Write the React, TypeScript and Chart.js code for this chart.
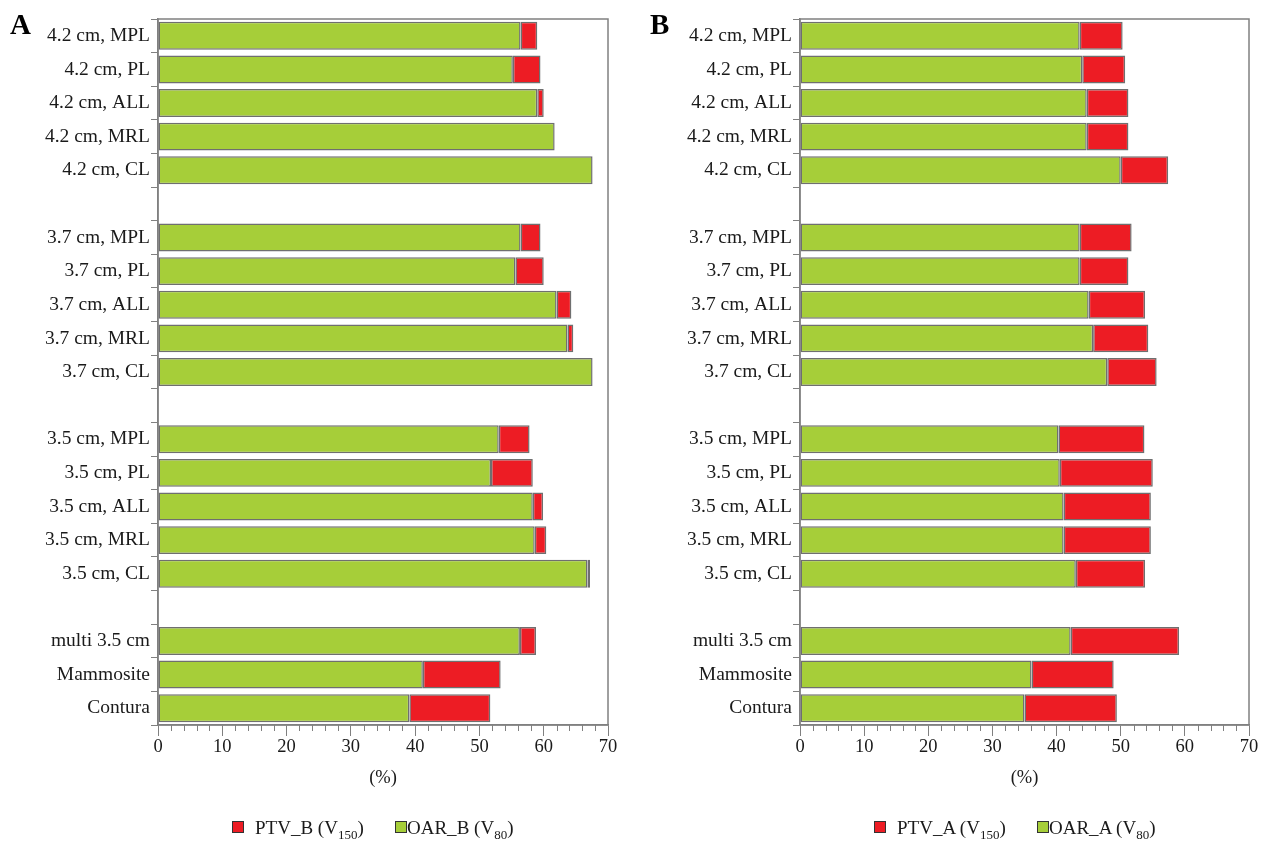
import React, { useEffect, useRef } from "react";
import { Chart, registerables } from "chart.js";

Chart.register(...registerables);

const categories = [
  "4.2 cm, MPL", "4.2 cm, PL", "4.2 cm, ALL", "4.2 cm, MRL", "4.2 cm, CL", "",
  "3.7 cm, MPL", "3.7 cm, PL", "3.7 cm, ALL", "3.7 cm, MRL", "3.7 cm, CL", "",
  "3.5 cm, MPL", "3.5 cm, PL", "3.5 cm, ALL", "3.5 cm, MRL", "3.5 cm, CL", "",
  "multi 3.5 cm", "Mammosite", "Contura",
];

// Panel A (B-index): green OAR_B base and red PTV_B increment
const oarB = [56.4, 55.2, 59.0, 61.7, 67.6, null, 56.4, 55.6, 62.0, 63.7, 67.6, null, 53.0, 51.8, 58.3, 58.6, 66.8, null, 56.3, 41.2, 39.1];
const ptvB = [2.6, 4.3, 1.0, 0, 0, null, 3.1, 4.4, 2.3, 0.9, 0, null, 4.8, 6.5, 1.6, 1.8, 0.4, null, 2.5, 12.1, 12.6];

// Panel B (A-index): green OAR_A base and red PTV_A increment
const oarA = [43.6, 44.0, 44.7, 44.7, 50.0, null, 43.6, 43.6, 45.0, 45.7, 47.9, null, 40.3, 40.5, 41.1, 41.1, 43.0, null, 42.2, 36.1, 35.0];
const ptvA = [6.7, 6.7, 6.5, 6.5, 7.4, null, 8.1, 7.6, 8.8, 8.6, 7.7, null, 13.4, 14.5, 13.6, 13.6, 10.8, null, 16.9, 12.8, 14.4];

const xTicksMajor = [0, 10, 20, 30, 40, 50, 60, 70];

const GREEN = "#a6ce39";
const RED = "#ed1c24";
const EDGE = "#6f6f6f";
const AXIS = "#808080";
const FONT = "'Liberation Serif', 'Times New Roman', serif";

const framePlugin = {
  id: "frame",
  afterDraw(chart: any) {
    const { ctx, chartArea } = chart;
    const xs = chart.scales.x;
    ctx.save();
    ctx.strokeStyle = AXIS;
    ctx.lineWidth = 1.5;
    ctx.strokeRect(chartArea.left, chartArea.top, chartArea.right - chartArea.left, chartArea.bottom - chartArea.top);
    ctx.lineWidth = 1;
    for (let v = 0; v <= 70; v += 2) {
      if (v % 10 === 0) continue;
      const px = Math.round(xs.getPixelForValue(v)) + 0.5;
      ctx.beginPath();
      ctx.moveTo(px, chartArea.bottom);
      ctx.lineTo(px, chartArea.bottom + 6);
      ctx.stroke();
    }
    ctx.restore();
  },
};

type PanelProps = {
  left: number;
  width: number;
  axisWidth: number;
  rightPad: number;
  letter: string;
  green: (number | null)[];
  red: (number | null)[];
  greenName: string;
  redName: string;
  tag: string;
};

function Panel(p: PanelProps) {
  const ref = useRef<HTMLCanvasElement | null>(null);
  useEffect(() => {
    if (!ref.current) return;
    const chart = new Chart(ref.current, {
      type: "bar",
      data: {
        labels: categories,
        datasets: [
          {
            label: p.greenName,
            data: p.green as any,
            backgroundColor: GREEN,
            borderColor: EDGE,
            borderWidth: 1.5,
            borderSkipped: false,
            barPercentage: 0.83,
            categoryPercentage: 1,
          },
          {
            label: p.redName,
            data: p.red as any,
            backgroundColor: RED,
            borderColor: EDGE,
            borderWidth: 1.5,
            borderSkipped: false,
            barPercentage: 0.83,
            categoryPercentage: 1,
          },
        ],
      },
      options: {
        indexAxis: "y",
        animation: false,
        responsive: false,
        maintainAspectRatio: false,
        layout: { padding: { top: 19, right: p.rightPad, bottom: 52, left: 0 } },
        plugins: { legend: { display: false }, tooltip: { enabled: false } },
        scales: {
          x: {
            stacked: true,
            min: 0,
            max: 70,
            afterBuildTicks: (s: any) => {
              s.ticks = xTicksMajor.map((v) => ({ value: v }));
            },
            afterFit: (s: any) => {
              s.height = 64;
            },
            grid: {
              drawOnChartArea: false,
              drawTicks: true,
              tickLength: 11,
              color: AXIS,
              lineWidth: 1,
            },
            border: { display: true, color: AXIS, width: 1.5 },
            ticks: {
              color: "#1a1a1a",
              padding: 0,
              maxRotation: 0,
              font: { family: FONT, size: 18.5 },
            },
            title: {
              display: true,
              text: "(%)",
              color: "#1a1a1a",
              padding: { top: 0, bottom: 0 },
              font: { family: FONT, size: 18.5 },
            },
          },
          y: {
            stacked: true,
            afterFit: (s: any) => {
              s.width = p.axisWidth;
            },
            grid: {
              offset: true,
              drawOnChartArea: false,
              drawTicks: true,
              tickLength: 7,
              color: AXIS,
              lineWidth: 1,
            },
            border: { display: true, color: AXIS, width: 1.5 },
            ticks: {
              color: "#1a1a1a",
              padding: 1,
              autoSkip: false,
              font: { family: FONT, size: 19.5 },
            },
          },
        },
      },
      plugins: [framePlugin],
    });
    return () => chart.destroy();
  }, []);

  const plotLeft = p.left + p.axisWidth;
  const sq = (c: string) => ({
    display: "inline-block",
    width: 10,
    height: 10,
    background: c,
    border: "1px solid #333",
  });
  return (
    <>
      <canvas
        ref={ref}
        width={p.width}
        height={841}
        style={{ position: "absolute", left: p.left, top: 0, width: p.width, height: 841 }}
      />
      <div
        style={{
          position: "absolute",
          left: p.left + 10,
          top: 8,
          fontFamily: FONT,
          fontWeight: "bold",
          fontSize: 29,
          color: "#000",
        }}
      >
        {p.letter}
      </div>
      <div style={{ position: "absolute", left: plotLeft + 74, top: 818, fontFamily: FONT, fontSize: 19, color: "#1a1a1a", whiteSpace: "nowrap", lineHeight: "20px" }}>
        <span style={{ ...sq(RED), position: "absolute", left: 0, top: 3 }} />
        <span style={{ position: "absolute", left: 23, top: 0 }}>
          PTV_{p.tag} (V<sub style={{ fontSize: 13 }}>150</sub>)
        </span>
        <span style={{ ...sq(GREEN), position: "absolute", left: 163, top: 3 }} />
        <span style={{ position: "absolute", left: 175, top: 0 }}>
          OAR_{p.tag} (V<sub style={{ fontSize: 13 }}>80</sub>)
        </span>
      </div>
    </>
  );
}

export default function App() {
  return (
    <div style={{ position: "absolute", left: 0, top: 0, width: 1270, height: 841, background: "#fff", overflow: "hidden" }}>
      <Panel left={0} width={640} axisWidth={158} rightPad={32} letter="A" green={oarB} red={ptvB} greenName="OAR_B (V80)" redName="PTV_B (V150)" tag="B" />
      <Panel left={640} width={630} axisWidth={160} rightPad={21} letter="B" green={oarA} red={ptvA} greenName="OAR_A (V80)" redName="PTV_A (V150)" tag="A" />
    </div>
  );
}
